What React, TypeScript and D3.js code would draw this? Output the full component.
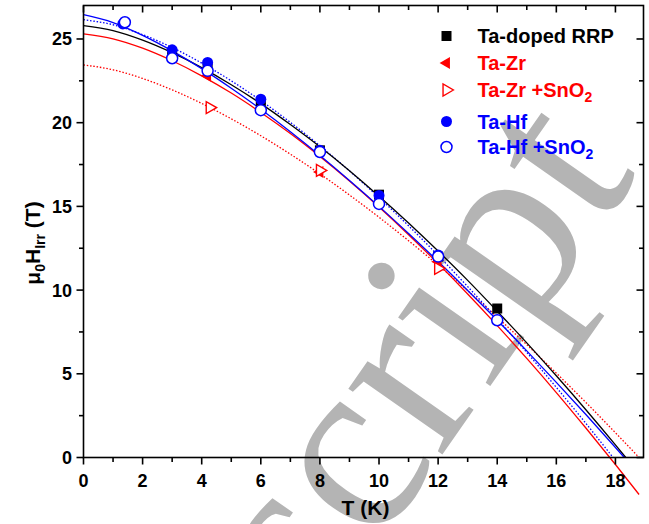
import React from "react";
import * as d3 from "d3";

// measured points, T in K, H in T
const rrpT = [3, 4.2, 6, 8, 10, 12, 14];
const rrpH = [24.0, 23.3, 21.1, 18.35, 15.7, 12.0, 8.9];

const zrT = [4.2, 8, 12];
const zrH = [22.8, 17.05, 11.7];

const zrSnT = [4.27, 8, 12];
const zrSnH = [20.9, 17.15, 11.3];

const hfT = [1.33, 3, 4.2, 6, 8, 10, 12];
const hfH = [25.9, 24.35, 23.6, 21.4, 18.35, 15.65, 12.1];

const hfSnT = [1.4, 3, 4.2, 6, 8, 10, 12, 14];
const hfSnH = [26.0, 23.85, 23.1, 20.75, 18.25, 15.15, 12.0, 8.2];

// fit curves
const fitT = [0, 1, 2, 3, 4, 5, 6, 7, 8, 9, 10, 11, 12, 13, 14, 15, 16, 17, 18];
const rrpFitH = [25.8, 25.5, 24.93, 24.18, 23.29, 22.27, 21.14, 19.89, 18.56, 17.13, 15.61, 14.01, 12.33, 10.58, 8.74, 6.85, 4.88, 2.85, 0.75];
const rrpFitEnd = [18.35, 0];
const zrFitH = [25.3, 25.01, 24.45, 23.7, 22.8, 21.77, 20.61, 19.35, 17.98, 16.52, 14.96, 13.31, 11.58, 9.77, 7.88, 5.92, 3.88, 1.76, -0.42];
const zrFitEnd = [18.8, -2.21];
const zrSnFitH = [23.45, 23.16, 22.64, 21.96, 21.15, 20.23, 19.22, 18.12, 16.94, 15.68, 14.35, 12.95, 11.49, 9.97, 8.38, 6.74, 5.04, 3.29, 1.48];
const zrSnFitEnd = [18.8, 0];
const hfFitH = [26.15, 25.85, 25.26, 24.49, 23.56, 22.5, 21.32, 20.02, 18.62, 17.12, 15.52, 13.84, 12.07, 10.21, 8.28, 6.28, 4.19, 2.04];
const hfFitEnd = [17.92, 0];
const hfSnFitH = [26.45, 25.98, 25.22, 24.29, 23.23, 22.06, 20.8, 19.46, 18.04, 16.55, 15.0, 13.38, 11.71, 9.98, 8.2, 6.37, 4.49, 2.57, 0.6];
const hfSnFitEnd = [18.3, 0];

const xTickLabels = ["0", "2", "4", "6", "8", "10", "12", "14", "16", "18"];
const yTickLabels = ["0", "5", "10", "15", "20", "25"];

const W = 649;
const H = 524;
const left = 83.5, right = 643.5, top = 5.5, bottom = 457.5;
const FONT = "Liberation Sans, Arial, Helvetica, sans-serif";
const RED = "#ff0000";
const BLUE = "#0000ff";

const x = d3.scaleLinear().domain([0, 18.95]).range([left, right]);
const y = d3.scaleLinear().domain([0, 27]).range([bottom, top]);

const line = d3
  .line<[number, number]>()
  .x((d) => x(d[0]))
  .y((d) => y(d[1]))
  .curve(d3.curveMonotoneX);

const fitPts = (hs: number[], end: number[]): [number, number][] => [
  ...hs.map((h, i) => [fitT[i], h] as [number, number]),
  [end[0], end[1]],
];

const zip = (ts: number[], hs: number[]) => ts.map((t, i) => [t, hs[i]] as [number, number]);

const square = d3.symbol(d3.symbolSquare, 100)();
const circle = d3.symbol(d3.symbolCircle, 95)();
const triangle = d3.symbol(d3.symbolTriangle, 62)();

const Marker = ({ kind, cx, cy }: { kind: string; cx: number; cy: number }) => {
  const tr = `translate(${cx},${cy})`;
  if (kind === "rrp") return <path d={square!} transform={tr} fill="#000" />;
  if (kind === "zr") return <path d={triangle!} transform={`${tr} rotate(-90)`} fill={RED} />;
  if (kind === "zrSn")
    return <path d={triangle!} transform={`${tr} rotate(90)`} fill="#fff" stroke={RED} strokeWidth={1.4} />;
  if (kind === "hf") return <path d={circle!} transform={tr} fill={BLUE} />;
  return <path d={circle!} transform={tr} fill="#fff" stroke={BLUE} strokeWidth={1.5} />;
};

const series = [
  { kind: "rrp", pts: zip(rrpT, rrpH) },
  { kind: "zr", pts: zip(zrT, zrH) },
  { kind: "zrSn", pts: zip(zrSnT, zrSnH) },
  { kind: "hf", pts: zip(hfT, hfH) },
  { kind: "hfSn", pts: zip(hfSnT, hfSnH) },
];

const fits = [
  { pts: fitPts(zrSnFitH, zrSnFitEnd), color: RED, dash: "1.5,1.8" },
  { pts: fitPts(zrFitH, zrFitEnd), color: RED, dash: null },
  { pts: fitPts(hfFitH, hfFitEnd), color: BLUE, dash: "1.5,1.8" },
  { pts: fitPts(rrpFitH, rrpFitEnd), color: "#000", dash: null },
  { pts: fitPts(hfSnFitH, hfSnFitEnd), color: BLUE, dash: null },
];

const legendRows = [
  { kind: "rrp", label: "Ta-doped RRP", sub: "", color: "#000", y: 36 },
  { kind: "zr", label: "Ta-Zr", sub: "", color: RED, y: 63 },
  { kind: "zrSn", label: "Ta-Zr +SnO", sub: "2", color: RED, y: 90 },
  { kind: "hf", label: "Ta-Hf", sub: "", color: BLUE, y: 121.5 },
  { kind: "hfSn", label: "Ta-Hf +SnO", sub: "2", color: BLUE, y: 147 },
];

export default function App() {
  const xMajor = d3.range(0, 19, 2);
  const xMinor = d3.range(1, 19, 2);
  const yMajor = d3.range(0, 26, 5);
  const yMinor = d3.range(2.5, 26, 5);

  return (
    <svg width={W} height={H} style={{ position: "absolute", left: 0, top: 0, background: "#fff" }} fontFamily={FONT}>
      <rect width={W} height={H} fill="#fff" />
      {/* watermark */}
      <text
        transform="translate(320,629) rotate(-55)"
        fontFamily="Liberation Serif, Times New Roman, serif"
        fontSize={250}
        fill="#b4b4b4"
      >
        script
      </text>

      {/* fits */}
      {fits.map((f, i) => (
        <path
          key={i}
          d={line(f.pts)!}
          fill="none"
          stroke={f.color}
          strokeWidth={1.3}
          strokeDasharray={f.dash ?? undefined}
        />
      ))}

      {/* frame */}
      <rect x={left} y={top} width={right - left} height={bottom - top} fill="none" stroke="#000" strokeWidth={1.6} />

      {/* x ticks */}
      {xMajor.map((t) => (
        <g key={"xM" + t}>
          <line x1={x(t)} x2={x(t)} y1={bottom} y2={bottom + 7} stroke="#000" strokeWidth={1.6} />
          <line x1={x(t)} x2={x(t)} y1={top} y2={top + 7} stroke="#000" strokeWidth={1.6} />
        </g>
      ))}
      {xMinor.map((t) => (
        <g key={"xm" + t}>
          <line x1={x(t)} x2={x(t)} y1={bottom} y2={bottom + 4.5} stroke="#000" strokeWidth={1.6} />
          <line x1={x(t)} x2={x(t)} y1={top} y2={top + 4.5} stroke="#000" strokeWidth={1.6} />
        </g>
      ))}
      {xMajor.map((t, i) => (
        <text key={"xl" + t} x={x(t)} y={487} textAnchor="middle" fontSize={18} fontWeight="bold">
          {xTickLabels[i]}
        </text>
      ))}

      {/* y ticks */}
      {yMajor.map((v) => (
        <g key={"yM" + v}>
          <line x1={left - 7} x2={left} y1={y(v)} y2={y(v)} stroke="#000" strokeWidth={1.6} />
          <line x1={right - 7} x2={right} y1={y(v)} y2={y(v)} stroke="#000" strokeWidth={1.6} />
        </g>
      ))}
      {yMinor.map((v) => (
        <g key={"ym" + v}>
          <line x1={left - 4.5} x2={left} y1={y(v)} y2={y(v)} stroke="#000" strokeWidth={1.6} />
          <line x1={right - 4.5} x2={right} y1={y(v)} y2={y(v)} stroke="#000" strokeWidth={1.6} />
        </g>
      ))}
      {yMajor.map((v, i) => (
        <text key={"yl" + v} x={72} y={y(v)} dy="0.36em" textAnchor="end" fontSize={18} fontWeight="bold">
          {yTickLabels[i]}
        </text>
      ))}

      {/* axis titles */}
      <text x={(left + right) / 2 + 2} y={515} textAnchor="middle" fontSize={21} fontWeight="bold">
        T (K)
      </text>
      <text transform="translate(40,243) rotate(-90)" textAnchor="middle" fontSize={21} fontWeight="bold">
        μ<tspan fontSize={14} dy={5}>0</tspan>
        <tspan dy={-5}>H</tspan>
        <tspan fontSize={14} dy={5}>Irr</tspan>
        <tspan dy={-5}> (T)</tspan>
      </text>

      {/* points */}
      {series.map((s) =>
        s.pts.map((p, i) => <Marker key={s.kind + i} kind={s.kind} cx={x(p[0])} cy={y(p[1])} />)
      )}

      {/* legend */}
      {legendRows.map((r) => (
        <g key={r.kind}>
          <Marker kind={r.kind} cx={446.5} cy={r.y} />
          <text x={477.5} y={r.y + 7} fontSize={20} fontWeight="bold" fill={r.color}>
            {r.label}
            {r.sub && (
              <tspan fontSize={14} dy={5}>
                {r.sub}
              </tspan>
            )}
          </text>
        </g>
      ))}
    </svg>
  );
}
